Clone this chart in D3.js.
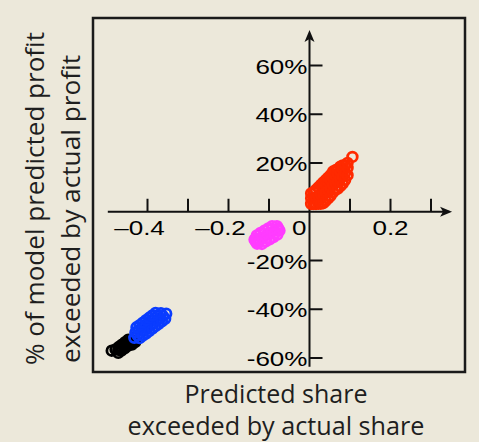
<!DOCTYPE html>
<html>
<head>
<meta charset="utf-8">
<script src="https://cdn.jsdelivr.net/npm/d3@7/dist/d3.min.js"></script>
<style>
  body { margin: 0; background: #ece8da; }
</style>
</head>
<body>
<div id="chart"></div>
<script>
// values: [predicted share exceeded, % of profit exceeded]
var redPoints = [[0.004,3.2],[0.004,5.5],[0.004,7.5],[0.01,3.2],[0.01,5.5],[0.01,8],[0.016,3.2],[0.016,6],[0.016,9],
    [0.022,3.3],[0.022,6.5],[0.022,10],[0.028,3.3],[0.028,7],[0.028,11],[0.034,3.5],[0.034,7],[0.034,10.5],[0.034,12],
    [0.04,4.5],[0.04,8],[0.04,11.5],[0.04,13],[0.046,5.5],[0.046,9],[0.046,12.5],[0.046,14],
    [0.052,6.5],[0.052,10],[0.052,13],[0.052,15],[0.058,8],[0.058,11],[0.058,14],[0.058,16.5],
    [0.064,9],[0.064,12],[0.064,15],[0.064,17],[0.07,9.5],[0.07,12.5],[0.07,15.5],[0.07,17.5],
    [0.076,10.5],[0.076,13.5],[0.076,16.5],[0.076,18.5],[0.082,11.5],[0.082,14.5],[0.082,17.5],[0.082,19],
    [0.088,13],[0.088,16],[0.088,19],[0.094,15],[0.094,18],[0.094,20],[0.106,22.5]]

var magentaPoints = [[-0.1326,-12.3],[-0.1358,-11.4],[-0.1294,-13.1],[-0.124,-11.4],[-0.13,-9.7],[-0.1175,-13.2],
    [-0.1146,-10.5],[-0.121,-8.7],[-0.108,-12.2],[-0.105,-9.5],[-0.1116,-7.8],[-0.0985,-11.3],
    [-0.0953,-8.6],[-0.1017,-6.8],[-0.0889,-10.4],[-0.0859,-7.7],[-0.0923,-5.9],[-0.0795,-9.4],
    [-0.0773,-6.8],[-0.0805,-5.9],[-0.0741,-7.7],[-0.1123,-9.1],[-0.106,-10.8],[-0.0938,-7.2],
    [-0.0874,-9.0],[-0.1316,-11.0],[-0.1252,-12.7]]

var blackPoints = [[-0.4884,-57.0],[-0.479,-56.5],[-0.4723,-57.9],[-0.4711,-55.5],[-0.4644,-57.0],[-0.4632,-54.5],
    [-0.4565,-56.0],[-0.4553,-53.5],[-0.4486,-55.0],[-0.4474,-52.5],[-0.4407,-54.0],[-0.4328,-53.0],
    [-0.4306,-53.5],[-0.4385,-54.5],[-0.4721,-56.6],[-0.4642,-55.7],[-0.4564,-54.7],[-0.4484,-53.7],[-0.4406,-52.7]]

var bluePoints = [[-0.4326,-51.7],[-0.4247,-50.7],[-0.4168,-49.7],[-0.4089,-48.8],[-0.401,-47.8],[-0.3932,-46.8],
    [-0.3854,-45.8],[-0.3775,-44.8],[-0.3696,-43.8],[-0.3617,-42.8],[-0.3538,-41.8],
    [-0.4299,-49.55],[-0.422,-48.55],[-0.4141,-47.65],[-0.4062,-46.65],[-0.3984,-45.65],[-0.3906,-44.65],
    [-0.3827,-43.65],[-0.3748,-42.65],[-0.3669,-41.65],
    [-0.4195,-51.85],[-0.4116,-50.85],[-0.4037,-49.95],[-0.3958,-48.95],[-0.388,-47.95],[-0.3802,-46.95],
    [-0.3723,-45.95],[-0.3644,-44.95],[-0.3565,-43.95],
    [-0.4272,-47.4],[-0.4193,-46.5],[-0.4114,-45.5],[-0.4036,-44.5],[-0.3958,-43.5],[-0.3879,-42.5],[-0.38,-41.5]]

var xTicks = [-0.4,-0.3,-0.2,-0.1,0.1,0.2,0.3]
var xTickLabels = [[-0.4,"\u20130.4"],[-0.2,"\u20130.2"],[0,"0"],[0.2,"0.2"]]
var yTicks = [-60,-40,-20,20,40,60]
var yTickLabels = ["-60%","-40%","-20%","20%","40%","60%"]

var series = [
    {points: blackPoints, color: "#000000"},
    {points: bluePoints, color: "#0a3cff"},
    {points: magentaPoints, color: "#ff3cff"},
    {points: redPoints, color: "#ff2a00"}
]

var width = 479, height = 442

var svg = d3.select("#chart").append("svg")
    .attr("width", width)
    .attr("height", height)

svg.append("rect").attr("width", width).attr("height", height).style("fill", "#ece8da")

var x = d3.scaleLinear().domain([-0.4, 0.3]).range([147.5, 431])
var y = d3.scaleLinear().domain([-60, 60]).range([358, 65.5])

// frame
svg.append("rect").attr("x", 93).attr("y", 18).attr("width", 372).attr("height", 354)
    .style("fill", "none").style("stroke", "#1a1a1a").style("stroke-width", 2.5)

var axisColor = "#111"

// x axis line + arrow
svg.append("line").attr("x1", x(-0.498)).attr("x2", x(0.345)).attr("y1", y(0)).attr("y2", y(0))
    .style("stroke", axisColor).style("stroke-width", 2)
var xt = x(0.352)
svg.append("path").attr("d", "M" + xt + "," + y(0) + " L" + (xt - 12) + "," + (y(0) - 5) + " L" + (xt - 9) + "," + y(0) + " L" + (xt - 12) + "," + (y(0) + 5) + "Z")
    .style("fill", axisColor)

// y axis line + arrow
svg.append("line").attr("x1", x(0)).attr("x2", x(0)).attr("y1", y(-63.6)).attr("y2", y(72))
    .style("stroke", axisColor).style("stroke-width", 2)
var yt = y(74.6)
svg.append("path").attr("d", "M" + x(0) + "," + yt + " L" + (x(0) - 5) + "," + (yt + 12) + " L" + x(0) + "," + (yt + 9) + " L" + (x(0) + 5) + "," + (yt + 12) + "Z")
    .style("fill", axisColor)

// ticks
xTicks.forEach(function(t){
    svg.append("line").attr("x1", x(t)).attr("x2", x(t)).attr("y1", y(0)).attr("y2", y(0) - 13)
        .style("stroke", axisColor).style("stroke-width", 2)
})
yTicks.forEach(function(t){
    svg.append("line").attr("x1", x(0)).attr("x2", x(0) + 13).attr("y1", y(t)).attr("y2", y(t))
        .style("stroke", axisColor).style("stroke-width", 2)
})

// tick labels (wide helvetica look -> stretched)
xTickLabels.forEach(function(d){
    var px = x(d[0]), anchor = "middle"
    if (d[1].charAt(0) == "\u2013") px = px - 8
    if (d[0] == 0) { px = x(0) - 3; anchor = "end" }
    svg.append("g").attr("transform", "translate(" + px + "," + (y(0) + 23) + ")")
        .append("text").attr("transform", "scale(1.24,1)")
        .attr("text-anchor", anchor)
        .style("font-family", "Liberation Sans, Arial, sans-serif").style("font-size", "21px")
        .style("fill", "#000")
        .text(d[1])
})
yTicks.forEach(function(t, i){
    svg.append("g").attr("transform", "translate(" + (x(0) - 2) + "," + (y(t) + 8) + ")")
        .append("text").attr("transform", "scale(1.24,1)")
        .attr("text-anchor", "end")
        .style("font-family", "Liberation Sans, Arial, sans-serif").style("font-size", "21px")
        .style("fill", "#000")
        .text(yTickLabels[i])
})

// points
series.forEach(function(s){
    svg.append("g").selectAll("circle").data(s.points).enter().append("circle")
        .attr("cx", function(d){ return x(d[0]) })
        .attr("cy", function(d){ return y(d[1]) })
        .attr("r", 4.8)
        .style("fill", "none")
        .style("stroke", s.color)
        .style("stroke-width", 2.8)
})

// axis titles
var titleFont = "Open Sans, sans-serif"
function title(tx, txt, len){
    return svg.append("text").attr("transform", tx)
        .attr("textLength", len).attr("lengthAdjust", "spacingAndGlyphs")
        .style("font-family", titleFont).style("font-size", "25px").style("fill", "#1e1e1e")
        .text(txt)
}
title("translate(" + (276 - 91.5) + ",403)", "Predicted share", 183)
title("translate(" + (276 - 148.5) + ",435)", "exceeded by actual share", 297)
title("translate(44,365) rotate(-90)", "% of model predicted profit", 333)
title("translate(80,363) rotate(-90)", "exceeded by actual profit", 308)
</script>
</body>
</html>
